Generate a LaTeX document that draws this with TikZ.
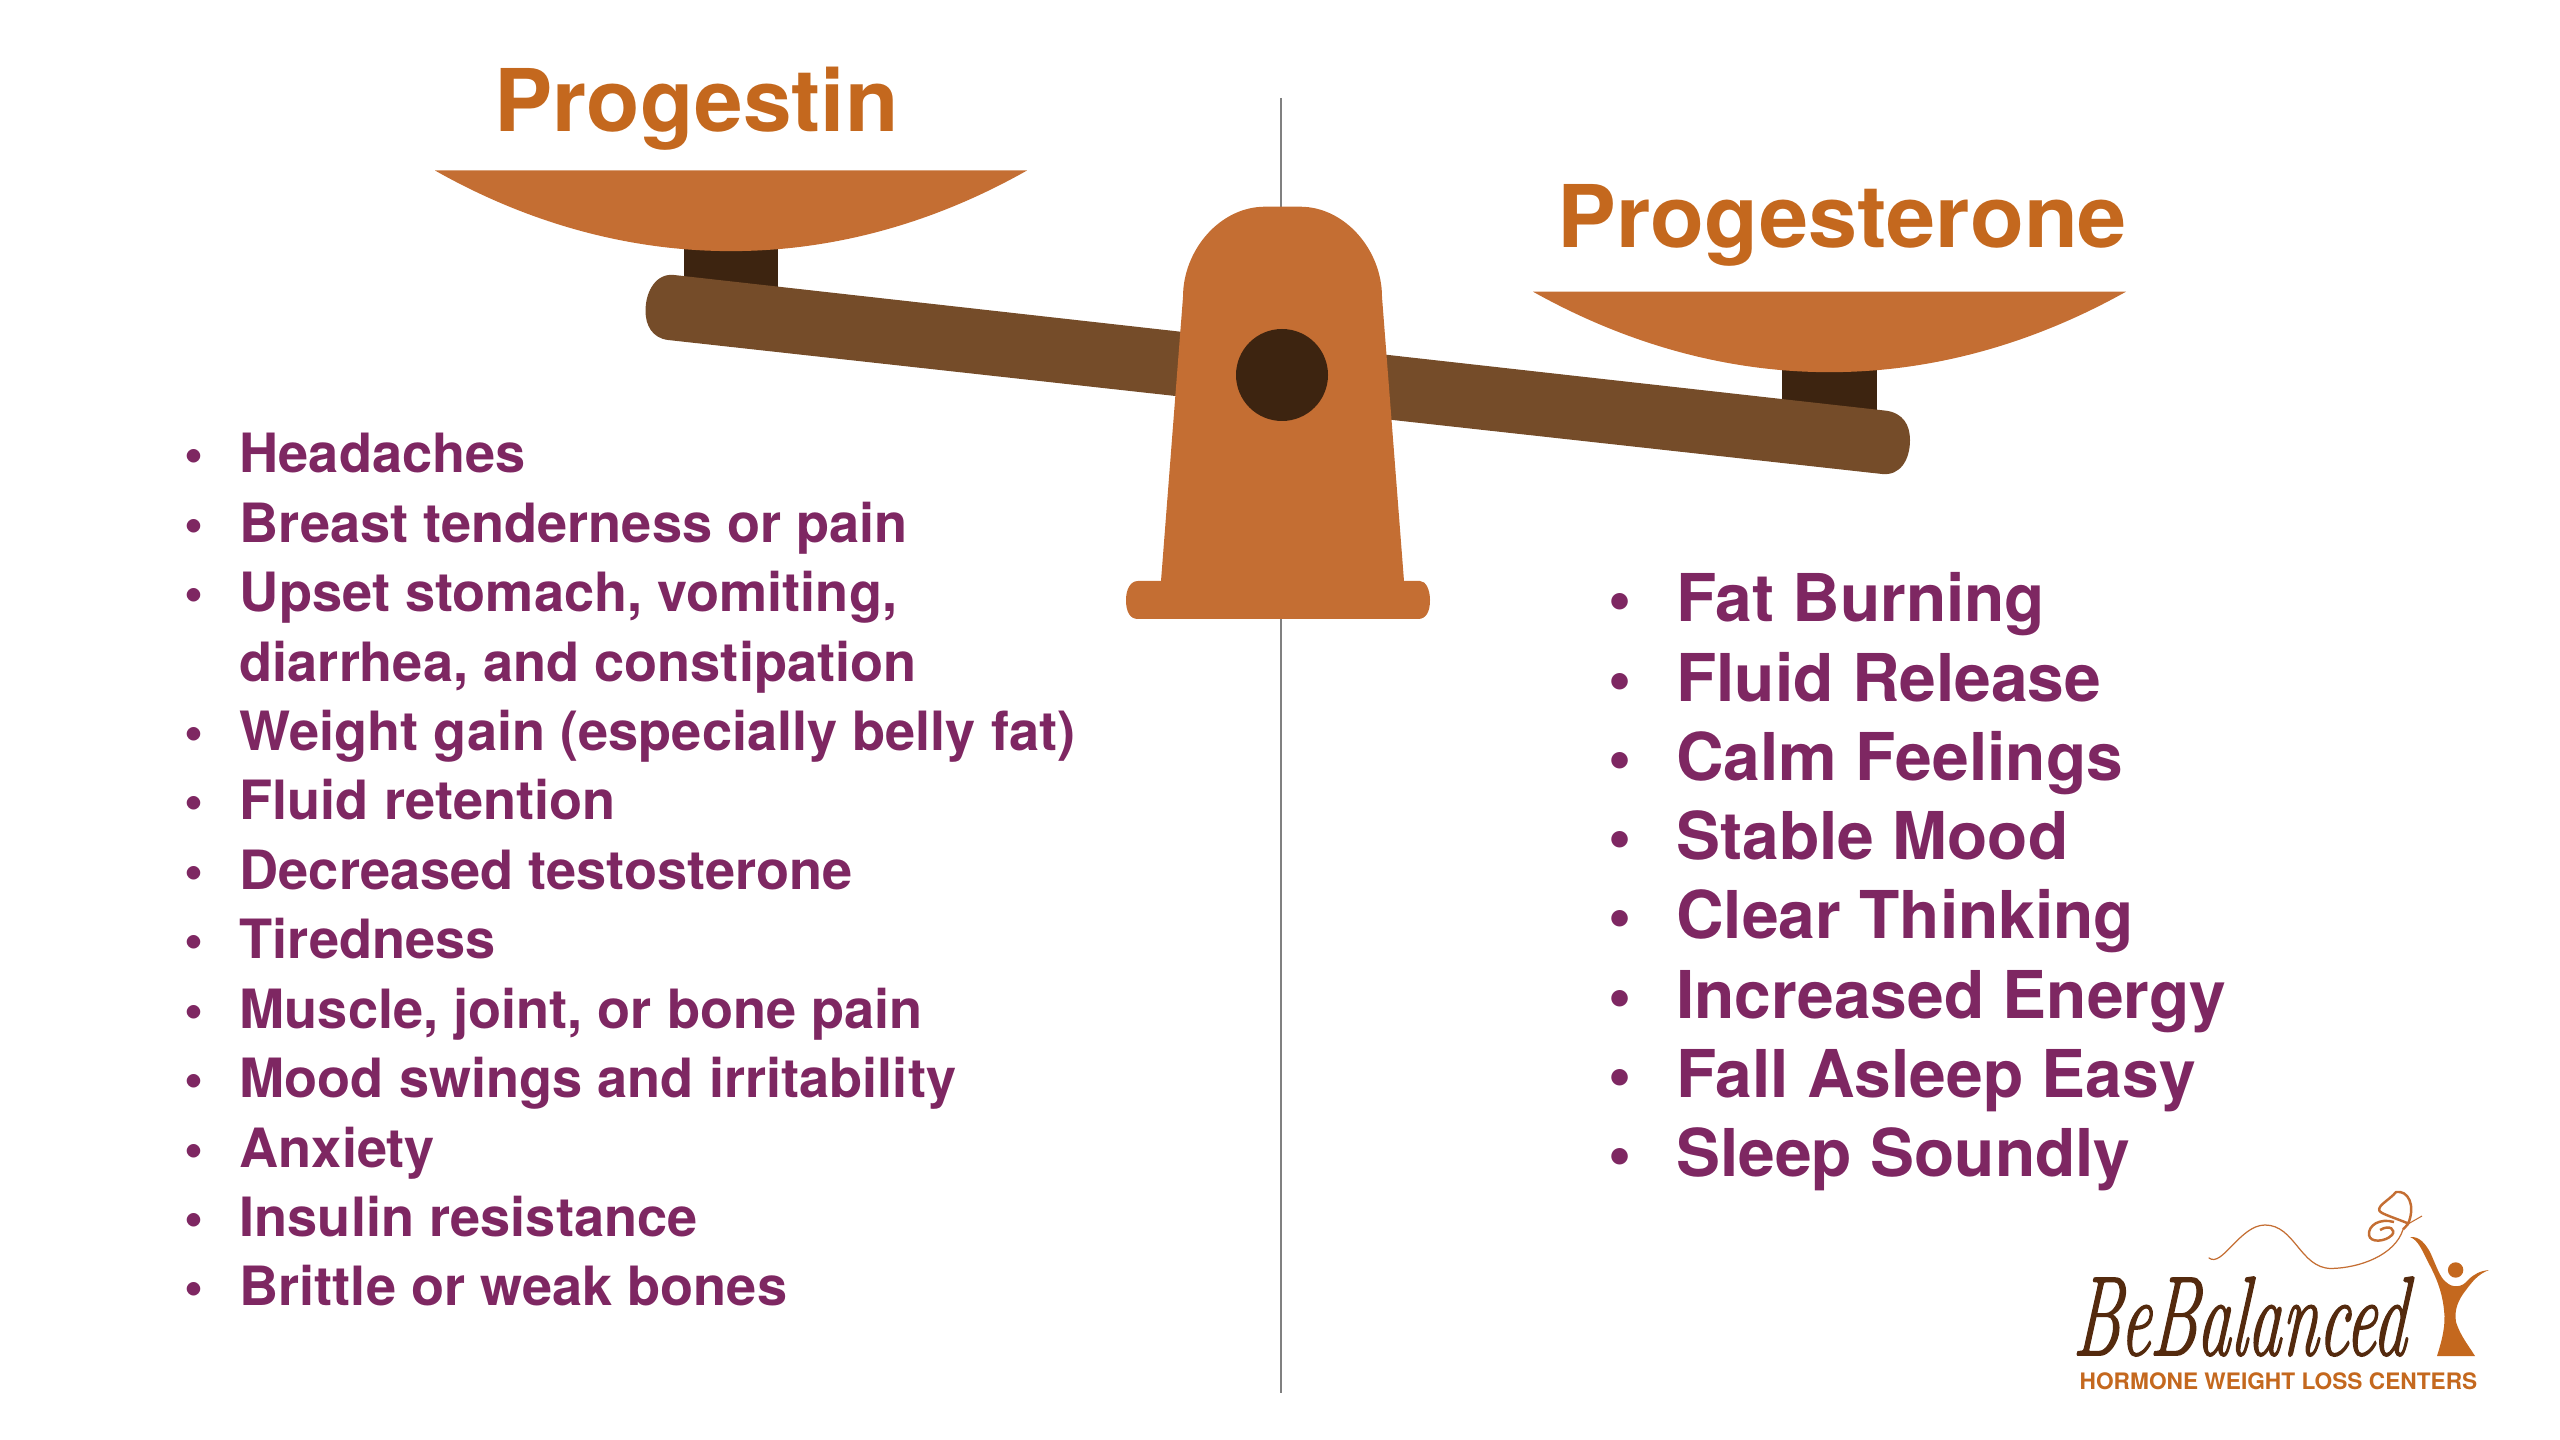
\documentclass[tikz,border=0pt]{standalone}
\usepackage{fontspec}
\setmainfont{TeX Gyre Heros}
\newfontfamily\logofont[FakeBold=1.6]{Latin Modern Roman}
\definecolor{panorange}{HTML}{C46E33}
\definecolor{titleorange}{HTML}{C4681E}
\definecolor{beambrown}{HTML}{754C29}
\definecolor{darkbrown}{HTML}{3D2410}
\definecolor{itempurple}{HTML}{7E2762}
\definecolor{logobrown}{HTML}{542A0E}
\tikzset{
	titletext/.style={anchor=base west, inner sep=0pt, text=titleorange, font=\fontsize{24.6}{24.6}\selectfont\bfseries},
	lefttext/.style={anchor=base west, inner sep=0pt, text=itempurple, font=\fontsize{15.4}{15.4}\selectfont\bfseries},
	righttext/.style={anchor=base west, inner sep=0pt, text=itempurple, font=\fontsize{18.75}{18.75}\selectfont\bfseries},
	leftbullet/.style={lefttext, anchor=base},
	rightbullet/.style={righttext, anchor=base},
}
\def\leftitem(#1)(#2)#3{\node[leftbullet] (leftdot#1) at (194, #2) {•}; \node[lefttext] (left#1) at (239, #2) {#3};}
\def\rightitem(#1)(#2)#3{\node[rightbullet] (rightdot#1) at (1620, #2) {•}; \node[righttext] (right#1) at (1675.5, #2) {#3};}

\begin{document}
\begin{tikzpicture}[x=0.01cm, y=-0.01cm]
		\useasboundingbox (0, 0) rectangle (2560, 1440);
		
		%%%%% scale %%%%%
		\draw[line width=0.3pt, color=black!50] (1281, 98) -- (1281, 1393);
		
		\fill[darkbrown] (684, 240) rectangle (777.5, 300);
		\fill[darkbrown] (1782, 360) rectangle (1877, 425);
		
		\fill[panorange] (435, 170.5) -- (1027, 170.5) .. controls (837, 278) and (625, 278) .. (435, 170.5) -- cycle;
		\fill[panorange] (1533, 291.7) -- (2126, 291.7) .. controls (1934, 399) and (1725, 399) .. (1533, 291.7) -- cycle;
		
		\fill[beambrown] (674, 275) -- (1886, 410.7) .. controls (1903, 413) and (1910, 425) .. (1910, 440) .. controls (1910, 460) and (1900, 476) .. (1882, 474) -- (668, 340) .. controls (652, 338) and (645.5, 325) .. (645.5, 311) .. controls (645.5, 290) and (657, 273) .. (674, 275) -- cycle;
		
		\fill[panorange] (1265, 206.7) -- (1300, 206.7) .. controls (1345, 206.7) and (1382, 250) .. (1382, 297) -- (1404, 581) -- (1420, 581) .. controls (1426, 581) and (1430, 590) .. (1430, 600) .. controls (1430, 612) and (1426, 619) .. (1418, 619) -- (1138, 619) .. controls (1130, 619) and (1126, 612) .. (1126, 600) .. controls (1126, 590) and (1130, 581) .. (1138, 581) -- (1161, 581) -- (1183, 297) .. controls (1183, 250) and (1220, 206.7) .. (1265, 206.7) -- cycle;
		\fill[darkbrown] (1282, 375) circle (46);
		
		%%%%% titles %%%%%
		\node[titletext, xscale=1.01] (progestin) at (494, 132) {Progestin};
		\node[titletext, xscale=1.02] (progesterone) at (1557, 248) {Progesterone};
		
		%%%%% left list %%%%%
		\leftitem(1)(473){Headaches}
		\leftitem(2)(542.4){Breast tenderness or pain}
		\leftitem(3)(611.8){Upset stomach, vomiting,}
		\node[lefttext] (left3b) at (239, 681.2) {diarrhea, and constipation};
		\leftitem(4)(750.6){Weight gain (especially belly fat)}
		\leftitem(5)(820){Fluid retention}
		\leftitem(6)(889.4){Decreased testosterone}
		\leftitem(7)(958.8){Tiredness}
		\leftitem(8)(1028.2){Muscle, joint, or bone pain}
		\leftitem(9)(1097.6){Mood swings and irritability}
		\leftitem(10)(1167){Anxiety}
		\leftitem(11)(1236.4){Insulin resistance}
		\leftitem(12)(1305.8){Brittle or weak bones}
		
		%%%%% right list %%%%%
		\rightitem(1)(622){Fat Burning}
		\rightitem(2)(701.2){Fluid Release}
		\rightitem(3)(780.4){Calm Feelings}
		\rightitem(4)(859.6){Stable Mood}
		\rightitem(5)(938.8){Clear Thinking}
		\rightitem(6)(1018){Increased Energy}
		\rightitem(7)(1097.2){Fall Asleep Easy}
		\rightitem(8)(1176.4){Sleep Soundly}
		
		%%%%% logo %%%%%
		\node[anchor=base west, inner sep=0pt, xscale=0.6, xslant=0.12, text=logobrown, font=\fontsize{32}{32}\logofont\itshape] (logoname) at (2072, 1355) {BeBalanced};
		\node[anchor=base west, inner sep=0pt, text=titleorange, font=\fontsize{6.45}{6.45}\selectfont\bfseries] (logotag) at (2079, 1389) {HORMONE WEIGHT LOSS CENTERS};
		
		\draw[line width=0.35pt, color=panorange, line cap=round] (2209, 1258) .. controls (2222, 1268) and (2240, 1225) .. (2265, 1225) .. controls (2295, 1225) and (2300, 1268) .. (2331, 1268.5) .. controls (2360, 1268) and (2395, 1255) .. (2403, 1229.5);
		\draw[line width=0.7pt, color=panorange, line join=round] (2403, 1229.5) -- (2408, 1224) .. controls (2416, 1205) and (2408, 1190) .. (2396, 1192) .. controls (2390, 1200) and (2372, 1208) .. (2382, 1213) .. controls (2388, 1216) and (2400, 1220) .. (2407, 1223);
		\draw[line width=0.7pt, color=panorange] (2394, 1222) .. controls (2380, 1218) and (2368, 1225) .. (2369, 1235) .. controls (2370, 1243) and (2385, 1242) .. (2392, 1235) .. controls (2396, 1230) and (2390, 1224) .. (2380, 1230);
		\draw[line width=0.3pt, color=panorange] (2408, 1224) -- (2422, 1216);
		
		\fill[titleorange] (2455.6, 1270) circle (7.7);
		\fill[titleorange] (2410, 1237) .. controls (2420, 1236) and (2426, 1245) .. (2430, 1252) .. controls (2436, 1265) and (2440, 1278) .. (2446, 1282) .. controls (2452, 1288) and (2462, 1288) .. (2468, 1280) .. controls (2474, 1274) and (2480, 1271) .. (2489, 1270) .. controls (2478, 1274) and (2472, 1282) .. (2466, 1290) .. controls (2458, 1300) and (2454, 1310) .. (2456, 1322) .. controls (2460, 1335) and (2468, 1345) .. (2475, 1356) -- (2437, 1356) .. controls (2442, 1340) and (2446, 1325) .. (2444, 1310) .. controls (2442, 1290) and (2435, 1275) .. (2428, 1262) .. controls (2422, 1250) and (2418, 1240) .. (2410, 1237) -- cycle;
\end{tikzpicture}
\end{document}
